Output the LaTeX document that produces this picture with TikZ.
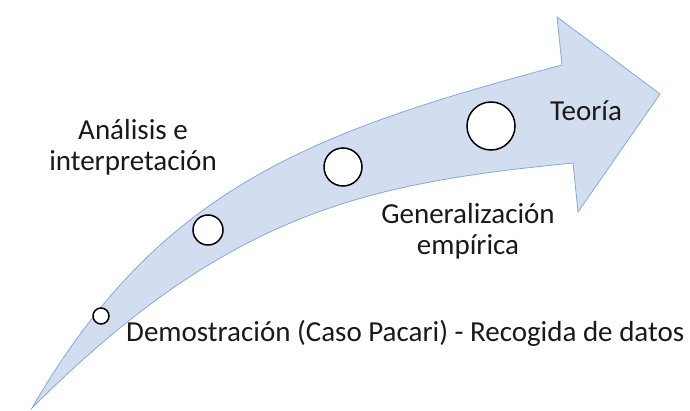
\documentclass[tikz,border=0pt]{standalone}
\usepackage{fontspec}
\setmainfont{Carlito}
\definecolor{arrowfill}{RGB}{210,222,240}
\definecolor{arrowline}{RGB}{130,170,218}
\definecolor{txt}{RGB}{25,25,25}
\begin{document}
\begin{tikzpicture}[x=1pt,y=-1pt,
  stage/.style={circle,draw=black,line width=1.5pt,fill=white,inner sep=0pt},
  lbl/.style={font=\fontsize{29}{31}\selectfont,text=txt,inner sep=0pt,align=center}]
\useasboundingbox (0,0) rectangle (690,411);
\path[fill=arrowfill,draw=arrowline,line width=0.8pt,line join=miter]
 (32,408) .. controls (160,187) and (312,132) .. (562,65)
 -- (557,17) -- (660,94) -- (578,212) -- (573,163)
 .. controls (373,183) and (232,208) .. (32,408) -- cycle;
\node[stage,minimum size=16pt] (s1) at (101,316) {};
\node[stage,minimum size=30pt] (s2) at (208,230) {};
\node[stage,minimum size=38pt] (s3) at (343,167) {};
\node[stage,minimum size=48pt] (s4) at (491,126) {};
\node[lbl] (analisis) at (133,147) {Análisis e\\interpretación};
\node[lbl] (teoria) at (586,111) {Teoría};
\node[lbl] (generalizacion) at (468,231) {Generalización\\empírica};
\node[lbl,anchor=west] (demo) at (126,333) {Demostración (Caso Pacari) - Recogida de datos};
\end{tikzpicture}
\end{document}
